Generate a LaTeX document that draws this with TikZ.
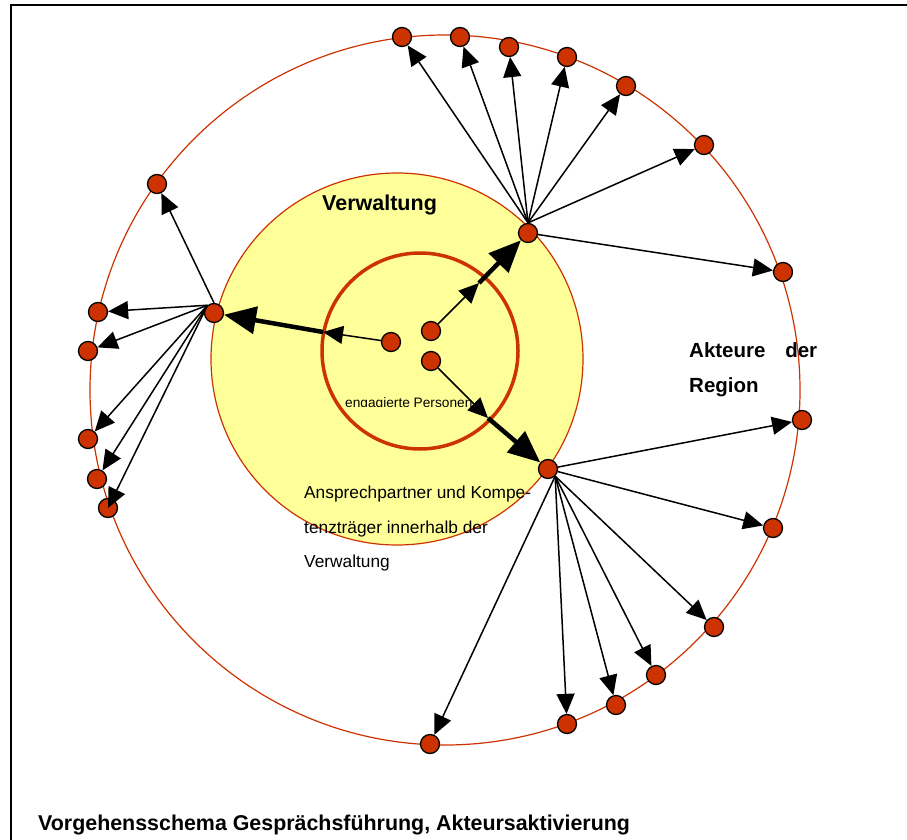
\documentclass[tikz,border=0pt]{standalone}
\usepackage{fontspec}
\setmainfont{Liberation Sans}
\usetikzlibrary{arrows.meta, positioning}
\definecolor{nodered}{HTML}{CC3300}
\definecolor{paleyellow}{HTML}{FFFF99}
\tikzset{
  actor/.style={circle, draw, line width=1.3pt, fill=nodered, minimum size=19pt, inner sep=0pt},
  arrow/.style={-{Triangle[length=20pt, width=18pt]}, line width=1.5pt},
  bigarrow/.style={-{Triangle[length=32pt, width=27pt]}, line width=4.5pt},
  label/.style={anchor=base west, inner sep=0pt}
}

\begin{document}
\begin{tikzpicture}[x=1pt, y=-1pt]
  \useasboundingbox (0,0) rectangle (907,840);
  % Frame
  \draw[line width=2pt] (11,840) -- (11,5) -- (907,5);

  % Circles
  \draw[nodered, line width=1.2pt] (445,390) circle (355pt);
  \filldraw[fill=paleyellow, draw=nodered, line width=1.2pt] (397,359) circle (186pt);
  \draw[nodered, line width=3.5pt] (420,351) circle (98pt);

  % Texts
  \node[label, font=\fontsize{21.5}{24}\selectfont\bfseries] (verw) at (322,210) {Verwaltung};
  \node[label, font=\fontsize{20.5}{24}\selectfont\bfseries, anchor=north west, text width=128pt, align=left] (region) at (689,342)
    {Akteure\hfill der\\[11pt]Region};
  \begin{scope}
    \clip (330,380) rectangle (480,406);
    \node[label, font=\fontsize{13.7}{16}\selectfont] (engag) at (345,407) {engagierte Personen};
  \end{scope}
  \node[label, font=\fontsize{17.3}{34.5}\selectfont, anchor=north west, align=left] (ansp) at (304,486)
    {Ansprechpartner und Kompe-\\tenzträger innerhalb der\\Verwaltung};
  \node[label, font=\fontsize{21.4}{24}\selectfont\bfseries] (title) at (38,830)
    {Vorgehensschema Gesprächsführung, Akteursaktivierung};

  % Inner persons
  \node[actor] (pa) at (391,342) {};
  \node[actor] (pb) at (431,331) {};
  \node[actor] (pc) at (431,361) {};

  % Hubs
  \node[actor] (hubL) at (214,313) {};
  \node[actor] (hubT) at (528,233) {};
  \node[actor] (hubB) at (548,469) {};

  % Crossing points on inner ring
  \coordinate (kL) at (323,332);
  \coordinate (kT) at (479,283);
  \coordinate (kB) at (488,418);

  % Actors of the region
  \node[actor] (t1) at (402,37) {};
  \node[actor] (t2) at (460,37) {};
  \node[actor] (t3) at (509,47) {};
  \node[actor] (t4) at (567,57) {};
  \node[actor] (t5) at (626,86) {};
  \node[actor] (t6) at (704,145) {};
  \node[actor] (t7) at (783,272) {};

  \node[actor] (l1) at (157,184) {};
  \node[actor] (l2) at (98,312) {};
  \node[actor] (l3) at (88,351) {};
  \node[actor] (l4) at (88,439) {};
  \node[actor] (l5) at (97,479) {};
  \node[actor] (l6) at (108,508) {};

  \node[actor] (b1) at (802,420) {};
  \node[actor] (b2) at (773,528) {};
  \node[actor] (b3) at (714,627) {};
  \node[actor] (b4) at (656,675) {};
  \node[actor] (b5) at (616,705) {};
  \node[actor] (b6) at (567,724) {};
  \node[actor] (b7) at (430,744) {};

  % Inner to hubs
  \draw[arrow] (pa) -- (kL);
  \draw[bigarrow] (kL) -- (hubL);
  \draw[arrow] (pb) -- (kT);
  \draw[bigarrow] (kT) -- (hubT);
  \draw[arrow] (pc) -- (kB);
  \draw[bigarrow] (kB) -- (hubB);

  % Hubs to actors
  \foreach \t in {t1,t2,t3,t4,t5,t6}
    \draw[arrow] (hubT.north) -- (\t);
  \draw[arrow] (hubT) -- (t7);

  \draw[arrow] (hubL.north) -- (l1);
  \foreach \l in {l2,l3,l4,l5}
    \draw[arrow] (hubL.130) -- (\l);
  \draw[arrow] (hubL.130) -- (l6.center);

  \draw[arrow] (hubB) -- (b1);
  \draw[arrow] (hubB) -- (b2);
  \foreach \b in {b3,b4,b5,b6,b7}
    \draw[arrow] (hubB.south east) -- (\b);
\end{tikzpicture}
\end{document}
